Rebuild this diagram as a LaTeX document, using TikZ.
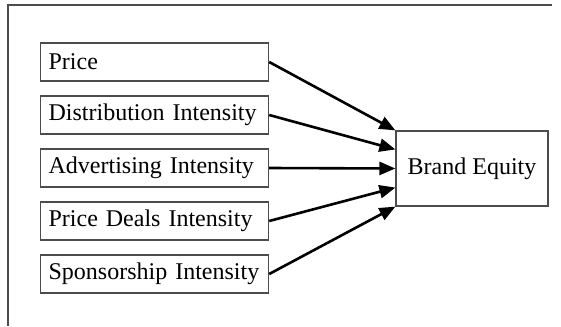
\documentclass[tikz,border=0pt]{standalone}
\usepackage{fontspec}
\setmainfont{Liberation Serif}
\usetikzlibrary{arrows.meta,calc}

\tikzset{
  factor/.style={draw=black!70, line width=0.6pt, anchor=west, inner xsep=4pt,
    text width=106pt, align=left, minimum height=19pt, font=\fontsize{12}{14}\selectfont},
  outcome/.style={draw=black!70, line width=0.6pt, minimum width=76pt, minimum height=37.5pt,
    inner sep=0pt, font=\fontsize{12}{14}\selectfont},
  effect/.style={-{Triangle[length=8pt,width=6.5pt]}, line width=1.3pt}
}

\begin{document}
\begin{tikzpicture}[x=0.5pt,y=-0.5pt]
    \useasboundingbox (0,0) rectangle (561,326);

    % Frame
    \draw[black!70, line width=0.6pt] (8,326) -- (8,5) -- (552,5);

    % Drivers
    \node[factor] (price) at (40,62) {Price};
    \node[factor] (dist) at (40,115) {Distribution Intensity};
    \node[factor] (adv) at (40,168) {Advertising Intensity};
    \node[factor] (deals) at (40,221) {Price Deals Intensity};
    \node[factor] (spons) at (40,274) {Sponsorship Intensity};

    % Outcome
    \node[outcome] (equity) at (472,168.5) {Brand Equity};

    % Effects
    \draw[effect] (price.east) -- (equity.north west);
    \draw[effect] (dist.east) -- ($(equity.north west)!0.25!(equity.south west)$);
    \draw[effect] (adv.east) -- (equity.west);
    \draw[effect] (deals.east) -- ($(equity.north west)!0.75!(equity.south west)$);
    \draw[effect] (spons.east) -- (equity.south west);
\end{tikzpicture}
\end{document}
